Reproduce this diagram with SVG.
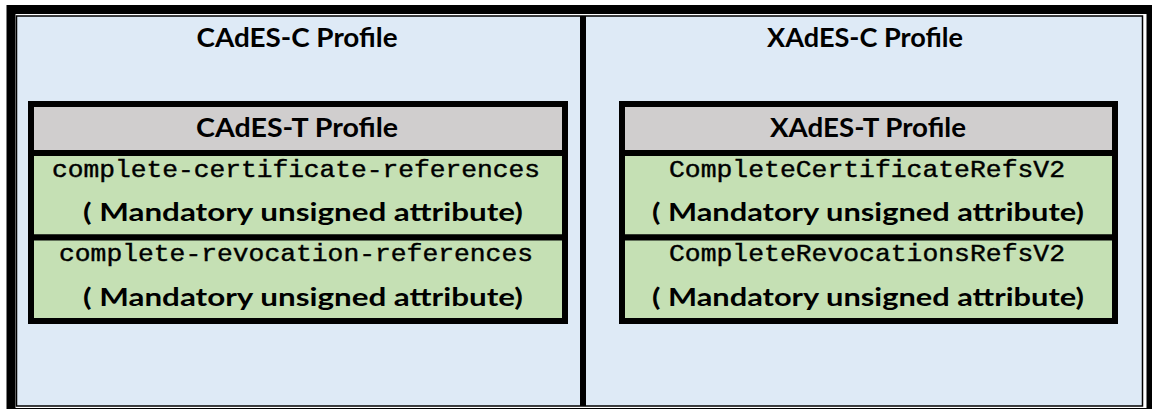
<svg xmlns="http://www.w3.org/2000/svg" width="1152" height="409" viewBox="0 0 1152 409">
<style>
.panel{fill:#DEEAF6;}
.hdr{fill:#D0CECE;stroke:#000;stroke-width:6;}
.cell{fill:#C5E0B4;stroke:#000;stroke-width:6;}
.title{font-family:Lato,"Open Sans","Liberation Sans",sans-serif;font-weight:bold;font-size:27px;fill:#000;text-anchor:middle;}
.mand{font-family:Lato,"Open Sans","Liberation Sans",sans-serif;font-weight:bold;font-size:24px;fill:#000;text-anchor:middle;}
.mono{font-family:"Liberation Mono","Courier New",monospace;font-weight:normal;font-size:23px;fill:#000;stroke:#000;stroke-width:0.4;text-anchor:middle;}
</style>
<rect x="0" y="0" width="1152" height="409" fill="#fff"/>
<g id="frame">
<rect x="11" y="9.5" width="1140" height="403" fill="none" stroke="#000" stroke-width="9"/>
<rect x="16.5" y="16" width="1126" height="390" class="panel" stroke="#000" stroke-width="1.5"/>
<rect x="580" y="16" width="6" height="390" fill="#000"/>
</g>
<g id="cades-c">
<text class="title" x="297" y="47" textLength="201" lengthAdjust="spacingAndGlyphs">CAdES-C Profile</text>
</g>
<g id="cades-t">
<rect class="hdr" x="31" y="104" width="534" height="49"/>
<text class="title" x="297" y="137" textLength="202" lengthAdjust="spacingAndGlyphs">CAdES-T Profile</text>
</g>
<g id="cades-cert">
<rect class="cell" x="31" y="153" width="534" height="84.5"/>
<text class="mono" x="296" y="177" textLength="488" lengthAdjust="spacingAndGlyphs">complete-certificate-references</text>
<text class="mand" x="303" y="221" textLength="440" lengthAdjust="spacingAndGlyphs">( Mandatory unsigned attribute)</text>
</g>
<g id="cades-rev">
<rect class="cell" x="31" y="237.5" width="534" height="83.5"/>
<text class="mono" x="296" y="261" textLength="474" lengthAdjust="spacingAndGlyphs">complete-revocation-references</text>
<text class="mand" x="303" y="306" textLength="440" lengthAdjust="spacingAndGlyphs">( Mandatory unsigned attribute)</text>
</g>
<g id="xades-c">
<text class="title" x="865" y="47" textLength="196" lengthAdjust="spacingAndGlyphs">XAdES-C Profile</text>
</g>
<g id="xades-t">
<rect class="hdr" x="622" y="104" width="493" height="49"/>
<text class="title" x="868" y="137" textLength="196" lengthAdjust="spacingAndGlyphs">XAdES-T Profile</text>
</g>
<g id="xades-cert">
<rect class="cell" x="622" y="153" width="493" height="84.5"/>
<text class="mono" x="867" y="177" textLength="396" lengthAdjust="spacingAndGlyphs">CompleteCertificateRefsV2</text>
<text class="mand" x="868" y="221" textLength="432" lengthAdjust="spacingAndGlyphs">( Mandatory unsigned attribute)</text>
</g>
<g id="xades-rev">
<rect class="cell" x="622" y="237.5" width="493" height="83.5"/>
<text class="mono" x="867" y="261" textLength="396" lengthAdjust="spacingAndGlyphs">CompleteRevocationsRefsV2</text>
<text class="mand" x="868" y="306" textLength="432" lengthAdjust="spacingAndGlyphs">( Mandatory unsigned attribute)</text>
</g>
<g id="connectors"></g>
</svg>
